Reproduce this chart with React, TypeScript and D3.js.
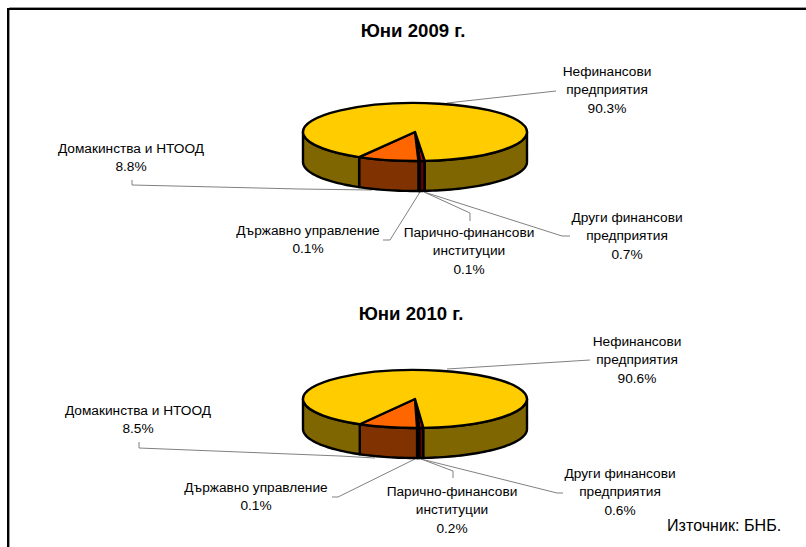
import { arc, line, pie, range } from "d3";

const categories = [
  "Други финансови предприятия",
  "Парично-финансови институции",
  "Държавно управление",
  "Домакинства и НТООД",
  "Нефинансови предприятия",
];
const shares2009 = [0.7, 0.1, 0.1, 8.8, 90.3];
const shares2010 = [0.6, 0.2, 0.1, 8.5, 90.6];
const topColors = ["#cc0000", "#cc0000", "#cc0000", "#ff6600", "#ffcc00"];
const wallColors = ["#660000", "#660000", "#660000", "#803300", "#806600"];

const labelLines = [
  ["Други финансови", "предприятия"],
  ["Парично-финансови", "институции"],
  ["Държавно управление"],
  ["Домакинства и НТООД"],
  ["Нефинансови", "предприятия"],
];

const deg = Math.PI / 180;
const RX = 112;
const RY = 29;
const DEPTH = 30;
const LINE_H = 18.3;

type Layout = {
  cy: number;
  startDeg: number;
  title: [number, number];
  labels: [number, number][];
  leaders: [number, number][][];
};

const layout2009: Layout = {
  cy: 132,
  startDeg: 175,
  title: [413, 37],
  labels: [[627, 222], [469, 237], [308, 235], [131, 153], [607, 76]],
  leaders: [
    [[424, 192], [562, 236], [570, 236]],
    [[424, 192], [470, 213], [470, 221]],
    [[420, 192], [390, 240], [383, 240]],
    [[372, 190], [300, 189], [132, 185], [132, 180]],
    [[447, 103], [556, 91]],
  ],
};

const layout2010: Layout = {
  cy: 399,
  startDeg: 175.7,
  title: [411, 320],
  labels: [[620, 478], [452, 496], [256, 492], [138, 415], [637, 346]],
  leaders: [
    [[421, 459], [557, 493], [563, 493]],
    [[421, 459], [453, 471], [453, 478]],
    [[415, 459], [338, 497], [332, 497]],
    [[375, 458], [340, 456], [139, 448], [139, 442]],
    [[447, 369], [590, 360]],
  ],
};

const CX = 415;
const toPath = line<[number, number]>();

function wallPath(a0: number, a1: number, cy: number) {
  const n = Math.max(2, Math.ceil((a1 - a0) / (2 * deg)));
  const top = range(n + 1).map((i): [number, number] => {
    const a = a0 + ((a1 - a0) * i) / n;
    return [CX + RX * Math.sin(a), cy - RY * Math.cos(a)];
  });
  const bottom = top.map(([x, y]): [number, number] => [x, y + DEPTH]).reverse();
  return toPath([...top, ...bottom]) + "Z";
}

// only the part of the rim facing the viewer gets a wall
function visibleSpans(a0: number, a1: number) {
  const spans: [number, number][] = [];
  for (const [lo, hi] of [[90 * deg, 270 * deg], [450 * deg, 630 * deg]]) {
    const s = Math.max(a0, lo);
    const e = Math.min(a1, hi);
    if (e > s) spans.push([s, e]);
  }
  return spans;
}

function Pie3D({ values, cfg, year }: { values: number[]; cfg: Layout; year: string }) {
  const slices = pie<number>()
    .sort(null)
    .startAngle(cfg.startDeg * deg)
    .endAngle((cfg.startDeg + 360) * deg)(values);
  const topArc = arc<any>().innerRadius(0).outerRadius(RX);

  return (
    <g>
      <text
        x={cfg.title[0]}
        y={cfg.title[1]}
        textAnchor="middle"
        fontSize={18.6}
        fontWeight="bold"
      >
        Юни {year} г.
      </text>

      {cfg.leaders.map((pts, i) => (
        <path key={i} d={toPath(pts) ?? ""} fill="none" stroke="#808080" strokeWidth={1} />
      ))}

      {slices.map((s, i) =>
        visibleSpans(s.startAngle, s.endAngle).map(([a0, a1], j) => (
          <path
            key={`${i}-${j}`}
            d={wallPath(a0, a1, cfg.cy)}
            fill={wallColors[i]}
            stroke="#000"
            strokeWidth={2.4}
            strokeLinejoin="round"
          />
        )),
      )}

      <g transform={`translate(${CX},${cfg.cy}) scale(1,${RY / RX})`}>
        {slices.map((s, i) => (
          <path
            key={i}
            d={topArc(s) ?? ""}
            fill={topColors[i]}
            stroke="#000"
            strokeWidth={2.4}
            strokeLinejoin="round"
            style={{ vectorEffect: "non-scaling-stroke" }}
          />
        ))}
      </g>

      {categories.map((c, i) => {
        const [x, y] = cfg.labels[i];
        const rows = [...labelLines[i], `${values[i].toFixed(1)}%`];
        return (
          <text key={c} x={x} y={y} textAnchor="middle" fontSize={13.7}>
            {rows.map((r, k) => (
              <tspan key={k} x={x} y={y + k * LINE_H}>
                {r}
              </tspan>
            ))}
          </text>
        );
      })}
    </g>
  );
}

export default function App() {
  const width = 806;
  const height = 547;
  return (
    <svg
      width={width}
      height={height}
      viewBox={`0 0 ${width} ${height}`}
      style={{
        position: "absolute",
        left: 0,
        top: 0,
        background: "#fff",
        fontFamily: "'Liberation Sans', Arial, sans-serif",
      }}
    >
      <path d={`M9.5,${height} V7.5 H${width}`} fill="none" stroke="#999" strokeWidth={1} />
      <path d={`M8,${height} V9 H${width}`} fill="none" stroke="#000" strokeWidth={2} />

      <Pie3D values={shares2009} cfg={layout2009} year="2009" />
      <Pie3D values={shares2010} cfg={layout2010} year="2010" />

      <text x={667} y={531} fontSize={16.1}>
        Източник: БНБ.
      </text>
    </svg>
  );
}
